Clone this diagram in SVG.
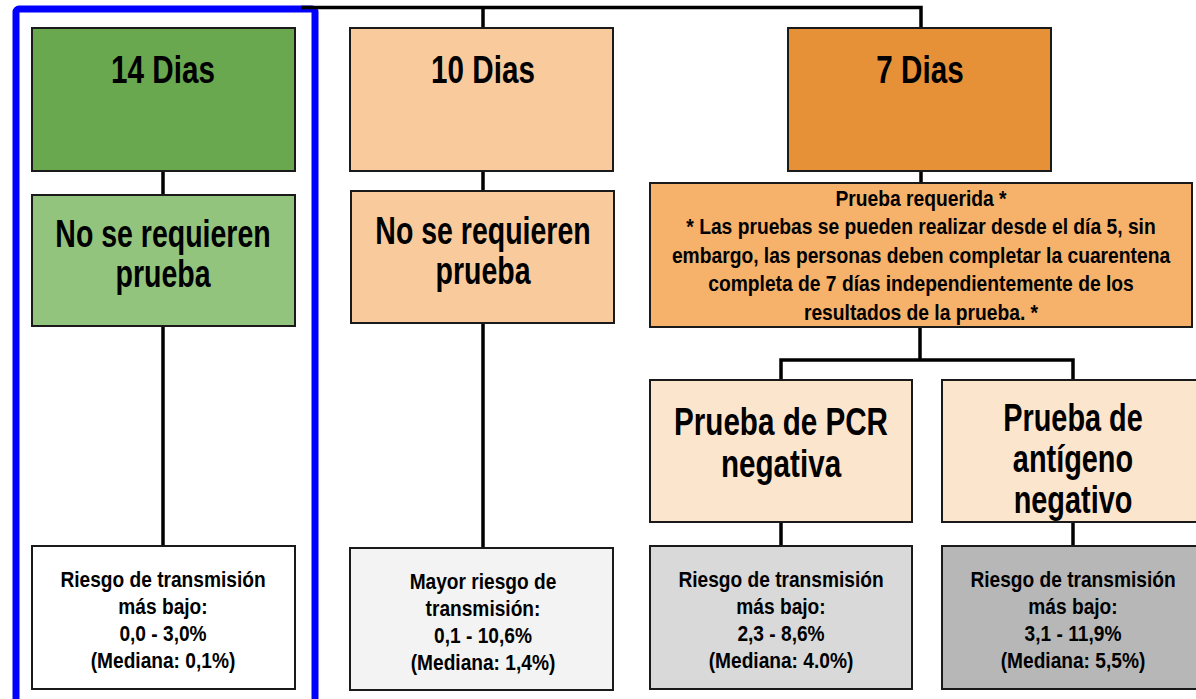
<svg xmlns="http://www.w3.org/2000/svg" width="1196" height="699" viewBox="0 0 1196 699">
<style>
.box{stroke:#1a1a1a;stroke-width:2}
.big{font-family:"Liberation Sans",Arial,sans-serif;font-weight:bold;font-size:38px;fill:#000;text-anchor:middle}
.sm{font-family:"Liberation Sans",Arial,sans-serif;font-weight:bold;font-size:22px;fill:#000;text-anchor:middle}
.conn{stroke:#000;stroke-width:3.5;fill:none}
</style>
<rect width="1196" height="699" fill="#fff"/>
<rect x="16" y="9" width="299" height="710" rx="3" fill="none" stroke="#0000ff" stroke-width="7"/>
<g id="connectors" class="conn">
<path d="M301 7.5 H921 V28"/>
<path d="M483 7.5 V28"/>
<path d="M163 171 V195"/>
<path d="M163 326 V546"/>
<path d="M483 171 V191"/>
<path d="M483 323 V548"/>
<path d="M921 171 V183"/>
<path d="M920 327 V360"/>
<path d="M781 380 V360 H1073 V380"/>
<path d="M781 522 V546"/>
<path d="M1073 522 V546"/>
</g>
<g id="n14"><rect class="box" x="32" y="28" width="263" height="143" fill="#6aa84f"/>
<text class="big" transform="translate(163,83) scale(0.78,1)">14 Dias</text></g>
<g id="n14b"><rect class="box" x="32" y="195" width="263" height="131" fill="#93c47d"/>
<text class="big" transform="translate(163,247) scale(0.75,1)"><tspan x="0">No se requieren</tspan><tspan x="0" dy="40">prueba</tspan></text></g>
<g id="n14c"><rect class="box" x="32" y="546" width="263" height="143" fill="#ffffff"/>
<text class="sm" transform="translate(163,587) scale(0.87,1)"><tspan x="0">Riesgo de transmisión</tspan><tspan x="0" dy="27">más bajo:</tspan><tspan x="0" dy="27">0,0 - 3,0%</tspan><tspan x="0" dy="27">(Mediana: 0,1%)</tspan></text></g>
<g id="n10"><rect class="box" x="350" y="28" width="263" height="143" fill="#f9cb9c"/>
<text class="big" transform="translate(483,83) scale(0.78,1)">10 Dias</text></g>
<g id="n10b"><rect class="box" x="351" y="191" width="263" height="132" fill="#f9cb9c"/>
<text class="big" transform="translate(483,244) scale(0.75,1)"><tspan x="0">No se requieren</tspan><tspan x="0" dy="40">prueba</tspan></text></g>
<g id="n10c"><rect class="box" x="350" y="548" width="263" height="142" fill="#f3f3f3"/>
<text class="sm" transform="translate(483,589) scale(0.87,1)"><tspan x="0">Mayor riesgo de</tspan><tspan x="0" dy="27">transmisión:</tspan><tspan x="0" dy="27">0,1 - 10,6%</tspan><tspan x="0" dy="27">(Mediana: 1,4%)</tspan></text></g>
<g id="n7"><rect class="box" x="788" y="28" width="263" height="143" fill="#e69138"/>
<text class="big" transform="translate(920,83) scale(0.78,1)">7 Dias</text></g>
<g id="n7b"><rect class="box" x="650" y="183" width="542" height="144" fill="#f6b26b"/>
<text class="sm" transform="translate(921,206) scale(0.875,1)"><tspan x="0">Prueba requerida *</tspan><tspan x="0" dy="28.5">* Las pruebas se pueden realizar desde el día 5, sin</tspan><tspan x="0" dy="28.5">embargo, las personas deben completar la cuarentena</tspan><tspan x="0" dy="28.5">completa de 7 días independientemente de los</tspan><tspan x="0" dy="28.5">resultados de la prueba. *</tspan></text></g>
<g id="npcr"><rect class="box" x="650" y="380" width="262" height="142" fill="#fce5cd"/>
<text class="big" transform="translate(781,435) scale(0.78,1)"><tspan x="0">Prueba de PCR</tspan><tspan x="0" dy="42">negativa</tspan></text></g>
<g id="nant"><rect class="box" x="942" y="380" width="262" height="142" fill="#fce5cd"/>
<text class="big" transform="translate(1073,431) scale(0.76,1)"><tspan x="0">Prueba de</tspan><tspan x="0" dy="41">antígeno</tspan><tspan x="0" dy="41">negativo</tspan></text></g>
<g id="npcrc"><rect class="box" x="650" y="546" width="262" height="143" fill="#d9d9d9"/>
<text class="sm" transform="translate(781,587) scale(0.87,1)"><tspan x="0">Riesgo de transmisión</tspan><tspan x="0" dy="27">más bajo:</tspan><tspan x="0" dy="27">2,3 - 8,6%</tspan><tspan x="0" dy="27">(Mediana: 4.0%)</tspan></text></g>
<g id="nantc"><rect class="box" x="942" y="546" width="262" height="143" fill="#b7b7b7"/>
<text class="sm" transform="translate(1073,587) scale(0.87,1)"><tspan x="0">Riesgo de transmisión</tspan><tspan x="0" dy="27">más bajo:</tspan><tspan x="0" dy="27">3,1 - 11,9%</tspan><tspan x="0" dy="27">(Mediana: 5,5%)</tspan></text></g>
</svg>
